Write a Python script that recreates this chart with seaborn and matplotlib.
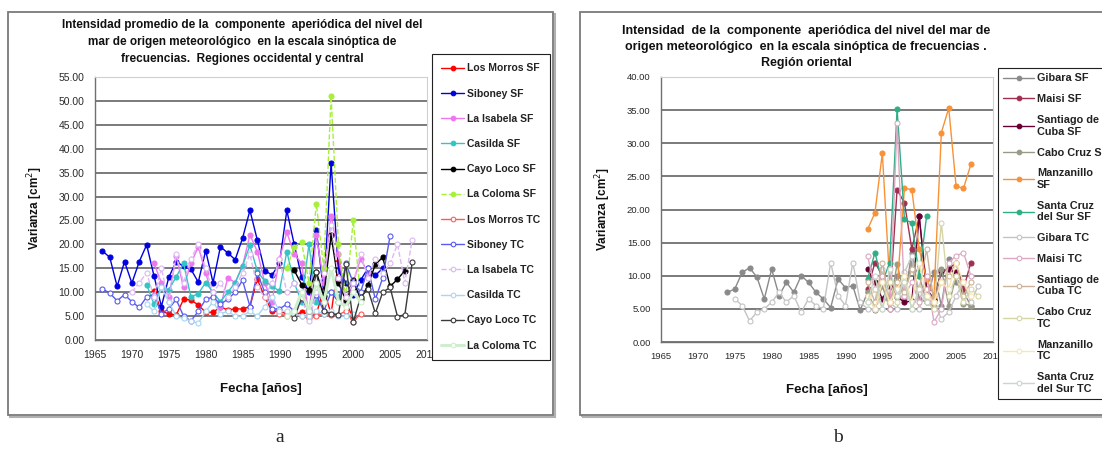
import matplotlib
matplotlib.use("Agg")
import matplotlib.pyplot as plt
import matplotlib.patches as mpatches
from matplotlib.ticker import MultipleLocator, FormatStrFormatter
from matplotlib.lines import Line2D
import seaborn as sns

sns.set_style("white")
plt.rcParams['font.family'] = ['Liberation Sans Narrow', 'Liberation Sans', 'DejaVu Sans']

# ---------------- Panel a data ----------------
names_a = ["Los Morros SF", "Siboney SF", "La Isabela SF", "Casilda SF", "Cayo Loco SF",
           "La Coloma SF", "Los Morros TC", "Siboney TC", "La Isabela TC", "Casilda TC",
           "Cayo Loco TC", "La Coloma TC"]
start_a = [1973, 1966, 1973, 1972, 1992, 1991, 1990, 1966, 1970, 1972, 1992, 1991]
los_morros_sf = [10.3, 6.0, 5.5, 5.2, 8.5, 8.4, 7.3, 5.8, 5.8, 6.9, 6.3, 6.5, 6.5, 7.0, 12.7,
                 9.0, 6.0, 6.0, 5.5, 5.2, 5.8, 5.5, 5.5, 10.5, 5.5, 16.3, 8.0, 4.5]
siboney_sf = [18.6, 17.3, 11.2, 16.4, 11.9, 16.4, 19.9, 13.4, 7.0, 13.1, 16.4, 15.4, 14.8, 12.1,
              18.7, 12.0, 19.5, 18.2, 16.8, 21.3, 27.1, 20.9, 14.5, 13.6, 16.0, 27.1, 20.0, 13.2,
              10.1, 23.0, 10.0, 37.0, 14.5, 12.0, 9.5, 12.5, 15.0, 13.5, 15.0]
la_isabela_sf = [16.0, 12.0, 9.0, 17.5, 11.0, 16.0, 19.5, 14.0, 9.0, 7.0, 13.0, 12.0, 15.5, 22.0,
                 18.5, 12.0, 8.0, 17.0, 22.5, 18.0, 16.0, 5.0, 22.0, 12.0, 26.0, 18.0, 8.0, 12.0,
                 17.0, 14.0]
casilda_sf = [11.6, 7.5, 11.0, 10.5, 13.2, 16.0, 9.0, 9.7, 12.0, 10.0, 8.0, 10.0, 12.0, 15.5,
              19.8, 14.4, 12.3, 11.3, 10.2, 18.5, 12.0, 8.0, 20.0, 8.0, 10.0, 10.0, 9.0]
cayo_loco_sf = [14.6, 11.6, 10.5, 14.3, 9.2, 21.9, 11.9, 8.3, 12.5, 8.5, 11.5, 15.8, 17.3, 11.2,
                12.7, 14.5]
la_coloma_sf = [15.0, 19.5, 20.5, 12.0, 28.5, 15.0, 51.0, 20.0, 9.0, 25.0, 9.0]
los_morros_tc = [5.5, 5.0, 5.5, 5.0, 4.5, 5.0, 5.5, 5.2, 5.3, 6.0, 3.8, 5.5]
siboney_tc = [10.7, 9.8, 8.2, 9.5, 8.0, 6.8, 9.0, 9.5, 5.5, 6.5, 8.5, 5.0, 4.0, 6.0, 8.5, 9.0,
              7.5, 8.5, 10.0, 12.5, 7.0, 14.0, 10.0, 6.5, 6.5, 7.5, 6.0, 8.5, 6.5, 9.5, 6.0, 10.0,
              8.0, 16.0, 12.0, 10.0, 15.0, 8.5, 13.0, 21.8]
la_isabela_tc = [10.0, 12.0, 14.0, 9.0, 15.0, 8.0, 18.0, 12.0, 17.0, 20.0, 15.0, 10.0, 12.0, 9.0,
                 11.0, 14.0, 18.0, 11.0, 9.0, 12.0, 17.0, 10.0, 12.0, 9.0, 4.0, 10.0, 14.0, 24.0,
                 13.0, 9.0, 12.0, 18.0, 13.0, 17.0, 14.0, 16.0, 20.0, 12.0, 21.0]
casilda_tc = [7.5, 6.0, 11.0, 8.0, 5.0, 4.5, 4.0, 3.5, 6.0, 8.0, 5.5, 6.0, 5.0, 5.0, 6.0, 5.0,
              7.0, 9.0, 6.0, 6.0, 5.5, 5.0, 5.0, 6.0, 5.5, 6.0, 5.0, 5.0, 5.5]
cayo_loco_tc = [4.5, 8.8, 6.0, 14.2, 6.0, 5.5, 5.3, 15.8, 3.7, 9.0, 10.6, 5.6, 10.0, 11.0, 4.9,
                5.3, 16.3]
la_coloma_tc = [5.0, 6.0, 10.0, 6.0, 12.0, 8.0, 15.0, 8.0, 7.0, 10.0, 8.0]
values_a = [los_morros_sf, siboney_sf, la_isabela_sf, casilda_sf, cayo_loco_sf, la_coloma_sf,
            los_morros_tc, siboney_tc, la_isabela_tc, casilda_tc, cayo_loco_tc, la_coloma_tc]
colors_a = ["#FF0000", "#0000E0", "#EE77EE", "#33C4C4", "#000000", "#A6F03C",
            "#FF5A5A", "#5A5AF0", "#DDB8F2", "#A9D6F2", "#3A3A3A", "#CDEFCD"]
filled_a = [True, True, True, True, True, True, False, False, False, False, False, False]

# ---------------- Panel b data ----------------
names_b = ["Gibara SF", "Maisi SF", "Santiago de\nCuba SF", "Cabo Cruz SF", "Manzanillo\nSF",
           "Santa Cruz\ndel Sur SF", "Gibara TC", "Maisi TC", "Santiago de\nCuba TC",
           "Cabo Cruz\nTC", "Manzanillo\nTC", "Santa Cruz\ndel Sur TC"]
start_b = [1974, 1993, 1993, 1993, 1993, 1993, 1975, 1993, 1993, 1993, 1993, 1993]
gibara_sf = [7.5, 8.0, 10.5, 11.2, 9.8, 6.5, 11.0, 7.0, 9.0, 7.5, 10.0, 9.0, 7.5, 6.5, 5.2, 9.5,
             8.2, 8.5, 4.8, 7.5, 4.9, 9.0, 5.0, 10.0, 6.5, 13.5, 6.5, 6.0, 10.5, 5.5, 12.5, 9.0,
             7.5, 5.5]
maisi_sf = [8.0, 12.0, 10.0, 6.0, 23.0, 21.0, 14.0, 19.0, 8.0, 6.5, 10.5, 11.0, 12.0, 8.0, 12.0]
santiago_sf = [11.0, 9.0, 6.5, 8.5, 6.8, 6.0, 6.2, 19.0, 8.0, 6.4, 10.8, 11.0, 10.5]
cabo_cruz_sf = [7.5, 5.0, 8.5, 5.0, 11.8, 7.0, 12.0, 10.0, 6.0, 5.5, 11.0, 5.5, 10.0, 5.8, 5.5]
manzanillo_sf = [17.0, 19.5, 28.5, 9.0, 8.0, 23.2, 23.0, 14.0, 9.5, 7.0, 31.6, 35.3, 23.5, 23.2,
                 26.8]
santa_cruz_sf = [9.5, 13.5, 9.0, 12.0, 35.2, 18.5, 18.0, 10.0, 19.0]
gibara_tc = [6.5, 5.5, 3.2, 4.5, 5.0, 6.0, 7.5, 6.0, 7.0, 4.5, 6.5, 5.5, 5.0, 12.0, 7.0, 5.5,
             12.0, 6.0, 5.0, 5.0, 11.0, 6.0, 5.0, 10.5, 13.0, 5.0, 8.0, 6.0, 3.5, 4.5, 7.0, 9.0,
             6.0, 8.5]
maisi_tc = [13.0, 8.0, 10.0, 5.0, 33.0, 7.0, 9.0, 6.0, 10.0, 3.0, 5.0, 12.0, 13.0, 13.5, 10.0]
santiago_tc = [9.0, 6.0, 12.0, 6.0, 9.0, 7.5, 11.0, 8.0, 14.0, 6.0, 9.0, 10.0, 12.0, 7.0, 9.0]
cabo_cruz_tc = [6.0, 8.0, 5.0, 9.0, 6.0, 10.0, 5.0, 8.0, 6.0, 5.0, 18.0, 7.0, 10.0, 6.0, 8.0, 7.0]
manzanillo_tc = [7.0, 5.0, 9.0, 6.0, 8.0, 10.0, 6.0, 12.0, 7.0, 6.0, 9.0, 8.0, 12.0, 9.0, 7.0]
santa_cruz_tc = [6.0, 10.0, 5.0, 11.0, 7.0, 9.0, 5.0, 8.0, 6.0]
values_b = [gibara_sf, maisi_sf, santiago_sf, cabo_cruz_sf, manzanillo_sf, santa_cruz_sf,
            gibara_tc, maisi_tc, santiago_tc, cabo_cruz_tc, manzanillo_tc, santa_cruz_tc]
colors_b = ["#8A8A8A", "#A0304F", "#660033", "#9A9A88", "#F79238", "#2FAE86",
            "#C4C4C4", "#DDA8C4", "#CDB29A", "#D5D5A8", "#F8E6B4", "#C9D6C9"]
filled_b = [True, True, True, True, True, True, False, False, False, False, False, False]

title_a = ["Intensidad promedio de la  componente  aperiódica del nivel del",
           "mar de origen meteorológico  en la escala sinóptica de",
           "frecuencias.  Regiones occidental y central"]
title_b = ["Intensidad  de la  componente  aperiódica del nivel del mar de",
           "origen meteorológico  en la escala sinóptica de frecuencias .",
           "Región oriental"]
xlabel = "Fecha [años]"
ylabel = "Varianza [cm$^2$]"

W, H = 1102, 450
fig = plt.figure(figsize=(W / 100, H / 100), dpi=100)
fig.patch.set_facecolor("white")


def fx(px):
    return px / W


def fy(py):
    return 1 - py / H


def frame(x0, y0, x1, y1):
    fig.patches.append(mpatches.Rectangle((fx(x0 + 2), fy(y1 + 2)), fx(x1) - fx(x0), fy(y0) - fy(y1),
                                          transform=fig.transFigure, fill=False, ec="#B0B0B0",
                                          lw=1.5, zorder=-10))
    fig.patches.append(mpatches.Rectangle((fx(x0), fy(y1)), fx(x1) - fx(x0), fy(y0) - fy(y1),
                                          transform=fig.transFigure, facecolor="white",
                                          ec="#7A7A7A", lw=1.3, zorder=-9))


frame(8, 12, 553, 415)
frame(580, 12, 1115, 415)


def draw_panel(ax, names, starts, values, colors, filled, ymax, ms):
    handles = []
    for name, st, vals, c, f in zip(names, starts, values, colors, filled):
        yrs = list(range(st, st + len(vals)))
        ls = "--" if name in ("La Coloma SF", "La Isabela TC") else "-"
        lw = 2.2 if name == "La Coloma TC" else 1.0
        sns.lineplot(x=yrs, y=vals, ax=ax, color=c, lw=lw, ls=ls, marker="o", markersize=ms,
                     markerfacecolor=c if f else "white", markeredgecolor=c,
                     markeredgewidth=0.8, estimator=None, sort=False, legend=False)
        handles.append(Line2D([], [], color=c, lw=lw, ls=ls, marker="o", markersize=ms - 0.3,
                              markerfacecolor=c if f else "white", markeredgecolor=c,
                              markeredgewidth=0.8))
    ax.set_facecolor("white")
    ax.set_xlim(1965, 2010)
    ax.set_ylim(0, ymax)
    ax.xaxis.set_major_locator(MultipleLocator(5))
    ax.xaxis.set_minor_locator(MultipleLocator(1))
    ax.yaxis.set_major_locator(MultipleLocator(5))
    ax.yaxis.set_minor_locator(MultipleLocator(1))
    ax.yaxis.set_major_formatter(FormatStrFormatter("%.2f"))
    ax.grid(axis="y", which="major", color="#7A7A7A", lw=1.4)
    ax.set_axisbelow(True)
    for s in ("top", "right"):
        ax.spines[s].set_color("#D0D0D0")
        ax.spines[s].set_linewidth(0.8)
    for s in ("left", "bottom"):
        ax.spines[s].set_color("#707070")
        ax.spines[s].set_linewidth(1.0)
    ax.tick_params(which="both", direction="inout", color="#707070", labelcolor="#2A2A2A",
                   labelsize=7.5)
    ax.tick_params(which="major", length=5, width=0.8, pad=5)
    ax.tick_params(which="minor", length=3, width=0.6)
    ax.set_xlabel(xlabel, fontsize=9.5, fontweight="bold", color="#111111", labelpad=16)
    ax.set_ylabel(ylabel, fontsize=8.5, fontweight="bold", color="#111111", labelpad=10)
    return handles


axA = fig.add_axes([fx(95), fy(340), fx(427) - fx(95), fy(77) - fy(340)])
hA = draw_panel(axA, names_a, start_a, values_a, colors_a, filled_a, 55, 3.6)
axB = fig.add_axes([fx(661), fy(342), fx(993) - fx(661), fy(77) - fy(342)])
hB = draw_panel(axB, names_b, start_b, values_b, colors_b, filled_b, 40, 3.6)
axB.tick_params(labelsize=6.8)

for t, yy in zip(title_a, [25, 42, 59]):
    fig.text(fx(242), fy(yy), t, ha="center", va="center", fontsize=8.5, fontweight="bold",
             color="#111111")
for t, yy in zip(title_b, [31, 47, 63]):
    fig.text(fx(806), fy(yy), t, ha="center", va="center", fontsize=9, fontweight="bold",
             color="#111111")

legA = fig.legend(hA, names_a, loc="upper left", bbox_to_anchor=(fx(432), fy(54)),
                  frameon=True, fancybox=False, edgecolor="#202020", framealpha=1,
                  prop={"size": 7.5, "weight": "bold"}, labelspacing=1.46, borderpad=0.9,
                  handlelength=2.2, handletextpad=0.3, borderaxespad=0)
legA.get_frame().set_linewidth(0.8)
legB = fig.legend(hB, names_b, loc="upper left", bbox_to_anchor=(fx(998), fy(68)),
                  frameon=True, fancybox=False, edgecolor="#202020", framealpha=1,
                  prop={"size": 7.8, "weight": "bold"}, labelspacing=1.0, borderpad=0.5,
                  handlelength=2.8, handletextpad=0.3, borderaxespad=0)
legB.get_frame().set_linewidth(0.8)
for leg in (legA, legB):
    for t in leg.get_texts():
        t.set_color("#222222")

fig.text(fx(280), fy(437), "a", ha="center", va="center", fontsize=14,
         family=["Liberation Serif", "DejaVu Serif"])
fig.text(fx(838), fy(437), "b", ha="center", va="center", fontsize=14,
         family=["Liberation Serif", "DejaVu Serif"])

fig.savefig("out.png", dpi=100, facecolor="white")
